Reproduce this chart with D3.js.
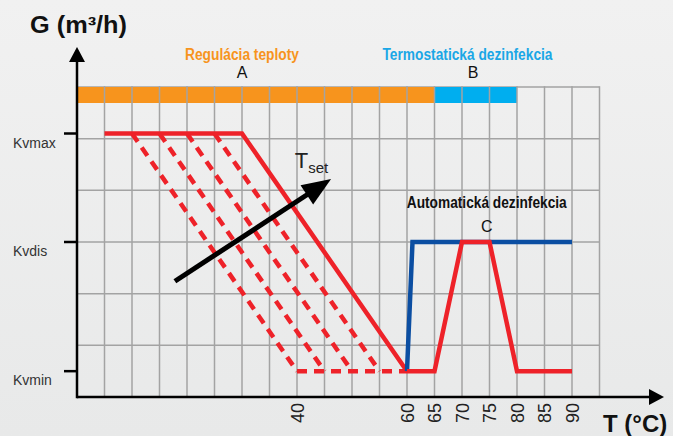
<!DOCTYPE html>
<html><head><meta charset="utf-8">
<script src="https://cdn.jsdelivr.net/npm/d3@7"></script>
<style>html,body{margin:0;padding:0;background:#efefef;}svg{display:block;}</style>
</head><body>
<script>
// ---- data ----
const xTickLabels = [40, 60, 65, 70, 75, 80, 85, 90];
const yLabels = ["Kvmax", "Kvdis", "Kvmin"];
const yLevels = [5.1, 3, 0.5];
const mainT = [5, 30, 60];
const mainG = [5.1, 5.1, 0.5];
const dashedStartT = [10, 15, 20, 25];
const dashedEndT = [40, 45, 50, 55];
const dashedBottomT = [40, 60];
const blueT = [60, 61, 90];
const blueG = [0.5, 3, 3];
const autoT = [60, 65, 70, 75, 80, 90];
const autoG = [0.5, 0.5, 3, 3, 0.5, 0.5];
const barFrom = [0, 65];
const barTo = [65, 80];
const barNames = ["Regulácia teploty", "Termostatická dezinfekcia"];
const barLetters = ["A", "B"];
const arrowT = [17.8, 46.2];
const arrowG = [2.24, 4.22];

const W = 673, H = 436;
const svg = d3.select("body").append("svg").attr("width", W).attr("height", H);
const defs = svg.append("defs");
const grad = defs.append("linearGradient").attr("id", "bg").attr("x1", 0).attr("y1", 0).attr("x2", 0).attr("y2", 1);
grad.append("stop").attr("offset", "0").attr("stop-color", "#f1f1f1");
grad.append("stop").attr("offset", "1").attr("stop-color", "#e8e9e9");
svg.append("rect").attr("width", W).attr("height", H).attr("fill", "url(#bg)");

const x = d3.scaleLinear().domain([0, 95]).range([77, 599.5]);
const y = d3.scaleLinear().domain([0, 6]).range([397, 87]);
const gridColor = "#a3a3a3";
const red = "#ee2229", blue = "#0b4ea2";

// horizontal grid
svg.append("g").selectAll("line").data(d3.range(1, 7)).join("line")
  .attr("x1", x(0)).attr("x2", x(95)).attr("y1", d => y(d)).attr("y2", d => y(d))
  .attr("stroke", gridColor).attr("stroke-width", 1.5);

// top bar
const barColors = ["#f7941d", "#00aeef"];
svg.append("g").selectAll("rect").data(barFrom).join("rect")
  .attr("x", (d) => x(d)).attr("width", (d, i) => x(barTo[i]) - x(d))
  .attr("y", y(6)).attr("height", 16).attr("fill", (d, i) => barColors[i]);

// vertical grid
svg.append("g").selectAll("line").data(d3.range(5, 100, 5)).join("line")
  .attr("x1", d => x(d)).attr("x2", d => x(d)).attr("y1", y(0)).attr("y2", y(6) - 0.75)
  .attr("stroke", gridColor).attr("stroke-width", 1.5);

// bar titles
const titleColors = ["#f7941d", "#1aa7e6"];
const titleX = [30, 71];
const titleW = [114, 170];
const letterX = [30, 72];
barNames.forEach((t, i) => {
  svg.append("text").attr("x", x(titleX[i])).attr("y", 60).attr("text-anchor", "middle")
    .attr("font-family", "Liberation Sans, Arial, sans-serif").attr("font-weight", "bold")
    .attr("font-size", 16).attr("fill", titleColors[i])
    .attr("textLength", titleW[i]).attr("lengthAdjust", "spacingAndGlyphs").text(t);
  svg.append("text").attr("x", x(letterX[i])).attr("y", 78).attr("text-anchor", "middle")
    .attr("font-family", "Liberation Sans, Arial, sans-serif").attr("font-size", 16)
    .attr("fill", "#111").text(barLetters[i]);
});

// dashed lines
const line = d3.line().x(d => x(d[0])).y(d => y(d[1]));
const dashedG = svg.append("g").attr("fill", "none").attr("stroke", red)
  .attr("stroke-width", 4.5).attr("stroke-dasharray", "10 7");
dashedStartT.forEach((t0, i) => {
  dashedG.append("path").attr("d", line([[t0, yLevels[0]], [dashedEndT[i], yLevels[2]]]));
});
dashedG.append("path").attr("d", line([[dashedBottomT[0], yLevels[2]], [dashedBottomT[1], yLevels[2]]]));

// main red curve
svg.append("path").attr("d", line(mainT.map((t, i) => [t, mainG[i]])))
  .attr("fill", "none").attr("stroke", red).attr("stroke-width", 4.5).attr("stroke-linejoin", "miter");

// blue curve
svg.append("path").attr("d", line(blueT.map((t, i) => [t, blueG[i]])))
  .attr("fill", "none").attr("stroke", blue).attr("stroke-width", 4.5);

// automatic disinfection red
svg.append("path").attr("d", line(autoT.map((t, i) => [t, autoG[i]])))
  .attr("fill", "none").attr("stroke", red).attr("stroke-width", 4.5);

svg.append("text").attr("x", x(74.5)).attr("y", 208).attr("text-anchor", "middle")
  .attr("font-family", "Liberation Sans, Arial, sans-serif").attr("font-weight", "bold")
  .attr("font-size", 16).attr("fill", "#111")
  .attr("textLength", 160).attr("lengthAdjust", "spacingAndGlyphs").text("Automatická dezinfekcia");
svg.append("text").attr("x", x(74.5)).attr("y", 232).attr("text-anchor", "middle")
  .attr("font-family", "Liberation Sans, Arial, sans-serif").attr("font-size", 16)
  .attr("fill", "#111").text("C");

// Tset arrow
const ax0 = x(arrowT[0]), ay0 = y(arrowG[0]), ax1 = x(arrowT[1]), ay1 = y(arrowG[1]);
const dx = ax1 - ax0, dy = ay1 - ay0, len = Math.hypot(dx, dy);
const ux = dx / len, uy = dy / len, px = -uy, py = ux;
const headL = 29, headW = 11.5;
const bx = ax1 - ux * headL, by = ay1 - uy * headL;
svg.append("line").attr("x1", ax0).attr("y1", ay0).attr("x2", bx + ux * 2).attr("y2", by + uy * 2)
  .attr("stroke", "#000").attr("stroke-width", 5);
svg.append("path").attr("d", `M${ax1},${ay1}L${bx + px * headW},${by + py * headW}L${bx - px * headW},${by - py * headW}Z`)
  .attr("fill", "#000");
const tset = svg.append("text").attr("x", x(39.6)).attr("y", y(4.43))
  .attr("font-family", "Liberation Sans, Arial, sans-serif").attr("fill", "#222");
tset.append("tspan").attr("font-size", 22).text("T");
tset.append("tspan").attr("font-size", 15).attr("dy", 5).text("set");

// axes
const axisG = svg.append("g");
axisG.append("line").attr("x1", x(0)).attr("x2", x(0)).attr("y1", y(0) + 1.25).attr("y2", 60)
  .attr("stroke", "#000").attr("stroke-width", 2.5);
axisG.append("path").attr("d", `M${x(0)},47L${x(0) + 8},62L${x(0) - 8},62Z`).attr("fill", "#000");
axisG.append("line").attr("x1", x(0)).attr("x2", 652).attr("y1", y(0)).attr("y2", y(0))
  .attr("stroke", "#000").attr("stroke-width", 2.5);
axisG.append("path").attr("d", `M664,${y(0)}L649,${y(0) - 8}L649,${y(0) + 8}Z`).attr("fill", "#000");

// y ticks + labels
yLevels.forEach((v, i) => {
  axisG.append("line").attr("x1", 64).attr("x2", x(0)).attr("y1", y(v)).attr("y2", y(v))
    .attr("stroke", "#000").attr("stroke-width", 2.5);
  axisG.append("text").attr("x", 13).attr("y", y(v) + 14)
    .attr("font-family", "Liberation Sans, Arial, sans-serif").attr("font-size", 14)
    .attr("fill", "#333").text(yLabels[i]);
});

// x tick labels (rotated)
xTickLabels.forEach(t => {
  axisG.append("text").attr("transform", `translate(${x(t) + 6.5},403) rotate(-90)`)
    .attr("text-anchor", "end")
    .attr("font-family", "Liberation Sans, Arial, sans-serif").attr("font-size", 18)
    .attr("fill", "#222").text(t);
});

// axis titles
svg.append("text").attr("x", 30).attr("y", 33)
  .attr("font-family", "Liberation Sans, Arial, sans-serif").attr("font-weight", "bold")
  .attr("font-size", 23).attr("fill", "#111")
  .attr("textLength", 97).attr("lengthAdjust", "spacingAndGlyphs").text("G (m³/h)");
svg.append("text").attr("x", 603).attr("y", 432)
  .attr("font-family", "Liberation Sans, Arial, sans-serif").attr("font-weight", "bold")
  .attr("font-size", 24).attr("fill", "#111").text("T (°C)");
</script>
</body></html>
